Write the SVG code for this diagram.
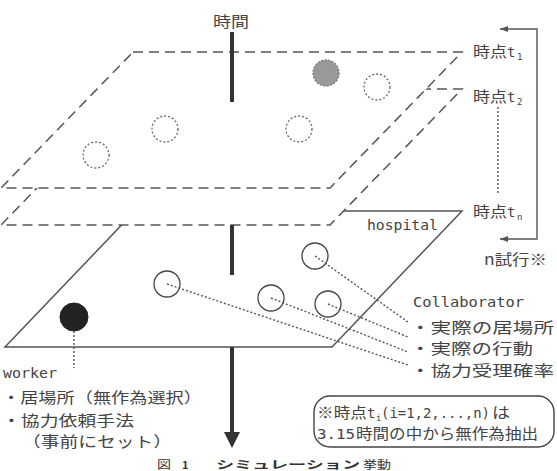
<svg xmlns="http://www.w3.org/2000/svg" width="557" height="471" viewBox="0 0 557 471">
<defs>
<style>
.dash{fill:#fff;stroke:#555;stroke-width:1.5;stroke-dasharray:10 6}
.plane{fill:#fff;stroke:#555;stroke-width:1.5}
.dc{fill:none;stroke:#666;stroke-width:1.3;stroke-dasharray:2 2}
.gc{fill:#999;stroke:#777;stroke-width:1.3;stroke-dasharray:2 1.5}
.sc{fill:none;stroke:#444;stroke-width:1.3}
.dl{fill:none;stroke:#555;stroke-width:1.4;stroke-dasharray:2 2}
.axis{stroke:#333;stroke-width:4;fill:none}
.br{fill:none;stroke:#555;stroke-width:1.4}
.jp{font-family:"Noto Sans CJK JP","Noto Sans",sans-serif;fill:#444;font-size:15px}
.mono{font-family:"DejaVu Sans Mono","Liberation Mono",monospace;fill:#444;font-size:14px}
.sub{font-family:"DejaVu Sans Mono","Liberation Mono",monospace;fill:#444;font-size:9px}
.cap{font-family:"Noto Sans CJK JP","Noto Sans",sans-serif;fill:#333;font-size:11px}
</style>
</defs>
<rect width="557" height="471" fill="#fff"/>

<g id="plane-tn">
<polygon class="plane" points="135,211 462,211 332,347 5,347"/>
<text class="mono" x="367" y="230" textLength="71" lengthAdjust="spacingAndGlyphs">hospital</text>
</g>
<g id="collaborator-1"><circle class="sc" cx="315" cy="256" r="13"/></g>
<g id="collaborator-2"><circle class="sc" cx="167" cy="284" r="13"/></g>
<g id="collaborator-3"><circle class="sc" cx="271" cy="298" r="13"/></g>
<g id="collaborator-4"><circle class="sc" cx="328" cy="304" r="13"/></g>
<g id="worker"><circle cx="74" cy="317" r="14" fill="#222" stroke="#222" stroke-width="1"/></g>

<g id="plane-t2">
<polygon class="dash" points="133,89 462,89 330,225 1,225"/>
</g>
<g id="plane-t1">
<polygon class="dash" points="133,52 462,52 330,188 1,188"/>
<circle class="dc" cx="165" cy="129" r="13"/>
<circle class="dc" cx="96" cy="155" r="13"/>
<circle class="gc" cx="326" cy="73" r="13"/>
<circle class="dc" cx="377" cy="87" r="13"/>
<circle class="dc" cx="299" cy="129" r="13"/>
</g>

<g id="connectors">
<line class="axis" x1="232" y1="32" x2="232" y2="102"/>
<line class="axis" x1="232" y1="225" x2="232" y2="275"/>
<line class="axis" x1="232" y1="347" x2="232" y2="434"/>
<polygon points="224,432 240,432 232,448" fill="#333"/>
<line class="dl" x1="315" y1="256" x2="408" y2="322"/>
<line class="dl" x1="328" y1="304" x2="408" y2="337"/>
<line class="dl" x1="271" y1="298" x2="408" y2="352"/>
<line class="dl" x1="167" y1="284" x2="408" y2="365"/>
<line class="dl" x1="74" y1="331" x2="74" y2="368"/>
<line class="dl" x1="498" y1="107" x2="498" y2="193" stroke-dasharray="1.5 2"/>
<polyline class="br" points="500,29 537,29 537,239 500,239"/>
<polygon points="500,29 508,26 508,32" fill="#555"/>
<polygon points="500,239 508,236 508,242" fill="#555"/>
</g>

<g id="labels">
<text class="jp" x="213" y="27" textLength="36" lengthAdjust="spacingAndGlyphs">時間</text>
<text class="jp" x="473" y="57" textLength="34" lengthAdjust="spacingAndGlyphs">時点</text>
<text class="mono" x="507" y="57">t</text><text class="sub" x="517" y="60">1</text>
<text class="jp" x="473" y="102" textLength="34" lengthAdjust="spacingAndGlyphs">時点</text>
<text class="mono" x="507" y="102">t</text><text class="sub" x="517" y="105">2</text>
<text class="jp" x="473" y="217" textLength="34" lengthAdjust="spacingAndGlyphs">時点</text>
<text class="mono" x="507" y="217">t</text><text class="sub" x="517" y="220">n</text>
<text class="jp" x="484" y="265" textLength="63" lengthAdjust="spacingAndGlyphs">n試行※</text>
</g>

<g id="worker-label">
<text class="mono" x="3" y="378" textLength="54" lengthAdjust="spacingAndGlyphs">worker</text>
<text class="jp" x="2" y="403" textLength="200" lengthAdjust="spacingAndGlyphs">・居場所（無作為選択）</text>
<text class="jp" x="2" y="426" textLength="132" lengthAdjust="spacingAndGlyphs">・協力依頼手法</text>
<text class="jp" x="22" y="447" textLength="150" lengthAdjust="spacingAndGlyphs">（事前にセット）</text>
</g>

<g id="collaborator-label">
<text class="mono" x="413" y="307" textLength="111" lengthAdjust="spacingAndGlyphs">Collaborator</text>
<text class="jp" x="410" y="333" textLength="144" lengthAdjust="spacingAndGlyphs">・実際の居場所</text>
<text class="jp" x="410" y="354" textLength="123" lengthAdjust="spacingAndGlyphs">・実際の行動</text>
<text class="jp" x="410" y="376" textLength="144" lengthAdjust="spacingAndGlyphs">・協力受理確率</text>
</g>

<g id="note">
<rect x="314" y="396" width="240" height="51" rx="16" ry="16" fill="#fff" stroke="#444" stroke-width="1.4"/>
<text class="jp" x="317" y="418" textLength="50" lengthAdjust="spacingAndGlyphs">※時点</text>
<text class="mono" x="367" y="418">t</text><text class="sub" x="376" y="421">i</text>
<text class="mono" x="381" y="418" textLength="109" lengthAdjust="spacingAndGlyphs">(i=1,2,...,n)</text>
<text class="jp" x="492" y="418" textLength="18" lengthAdjust="spacingAndGlyphs">は</text>
<text class="mono" x="317" y="439" textLength="38" lengthAdjust="spacingAndGlyphs">3.15</text>
<text class="jp" x="356" y="439" textLength="182" lengthAdjust="spacingAndGlyphs">時間の中から無作為抽出</text>
</g>

<g id="caption">
<text class="cap" x="157" y="469" textLength="14" lengthAdjust="spacingAndGlyphs">図</text>
<text class="cap" x="182" y="469" font-weight="bold">1</text>
<text class="cap" x="216" y="469" font-weight="bold" textLength="144" lengthAdjust="spacingAndGlyphs">シミュレーション</text>
<text class="cap" x="363" y="469" textLength="28" lengthAdjust="spacingAndGlyphs">挙動</text>
</g>
</svg>
